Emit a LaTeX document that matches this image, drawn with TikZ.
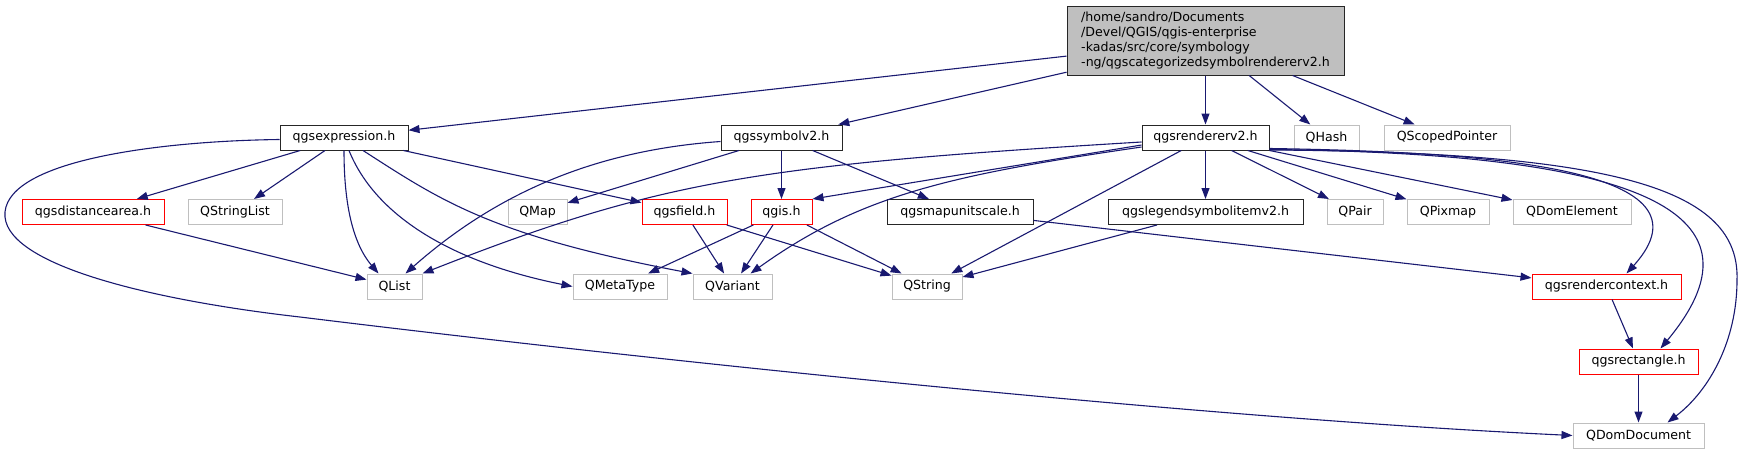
\documentclass[tikz,border=0pt]{standalone}
\usepackage{fontspec}
\setmainfont{DejaVu Sans}
\usepackage{tikz}
\usepackage{xcolor}
\usetikzlibrary{arrows.meta}
\definecolor{edgeBlue}{RGB}{25,25,112}
\definecolor{extGrey}{RGB}{191,191,191}
\definecolor{rootFill}{RGB}{191,191,191}

\begin{document}
\begin{tikzpicture}[x=1pt,y=-1pt,
  font=\fontsize{12.6}{15}\selectfont,
  docbox/.style={draw=black!85,line width=1pt,fill=white,minimum height=25pt,inner sep=2pt},
  extbox/.style={docbox,draw=extGrey},
  redbox/.style={docbox,draw=red},
  dep/.style={draw=edgeBlue,line width=1.1pt,-{Triangle[length=11pt,width=8pt]}}]
\useasboundingbox (0,0) rectangle (1744,455);
\node[docbox,fill=rootFill,minimum width=277pt,minimum height=69pt,align=left] (root) at (1205.5,40.5) {/home/sandro/Documents\\/Devel/QGIS/qgis-enterprise\\-kadas/src/core/symbology\\-ng/qgscategorizedsymbolrendererv2.h};
\node[docbox,minimum width=128pt] (expr) at (344,137.5) {qgsexpression.h};
\node[docbox,minimum width=121pt] (symb) at (781.5,137.5) {qgssymbolv2.h};
\node[docbox,minimum width=127pt] (rend) at (1205.5,137.5) {qgsrendererv2.h};
\node[extbox,minimum width=65pt] (qhash) at (1326.5,137.5) {QHash};
\node[extbox,minimum width=126pt] (qscoped) at (1447,137.5) {QScopedPointer};
\node[redbox,minimum width=142pt] (dist) at (93,212) {qgsdistancearea.h};
\node[extbox,minimum width=94pt] (qstrlist) at (235,212) {QStringList};
\node[extbox,minimum width=59pt] (qmap) at (537.5,212) {QMap};
\node[redbox,minimum width=85pt] (field) at (684.5,212) {qgsfield.h};
\node[redbox,minimum width=61pt] (qgis) at (781.5,212) {qgis.h};
\node[docbox,minimum width=146pt] (mapunit) at (960,212) {qgsmapunitscale.h};
\node[docbox,minimum width=195pt] (legend) at (1205.5,212) {qgslegendsymbolitemv2.h};
\node[extbox,minimum width=56pt] (qpair) at (1355,212) {QPair};
\node[extbox,minimum width=82pt] (qpixmap) at (1448,212) {QPixmap};
\node[extbox,minimum width=118pt] (qdomelem) at (1572,212) {QDomElement};
\node[extbox,minimum width=55pt] (qlist) at (394.5,286.5) {QList};
\node[extbox,minimum width=94pt] (qmeta) at (620,286.5) {QMetaType};
\node[extbox,minimum width=79pt] (qvariant) at (732.5,286.5) {QVariant};
\node[extbox,minimum width=70pt] (qstring) at (927,286.5) {QString};
\node[redbox,minimum width=149pt] (rctx) at (1606.5,286.5) {qgsrendercontext.h};
\node[redbox,minimum width=119pt] (rect) at (1638.5,361.5) {qgsrectangle.h};
\node[extbox,minimum width=131pt] (qdomdoc) at (1638.5,435.5) {QDomDocument};

\draw[dep] (root) -- (expr);
\draw[dep] (root) -- (symb);
\draw[dep] (root) -- (rend);
\draw[dep] (root) -- (qhash);
\draw[dep] (root) -- (qscoped);

\draw[dep] ([yshift=-2pt]expr.west) .. controls (160,141) and (10,160) .. (5,212) .. controls (0,264) and (150,300) .. (300,317) .. controls (650,360) and (1200,418) .. (qdomdoc.west);
\draw[dep] (expr) -- (dist);
\draw[dep] (expr) -- (qstrlist);
\draw[dep] (expr) -- (field);
\draw[dep] (expr.south) .. controls (344,195) and (350,240) .. ([xshift=-16pt]qlist.north);
\draw[dep] ([xshift=5pt]expr.south) .. controls (375,215) and (450,262) .. (qmeta.west);
\draw[dep] ([xshift=19pt]expr.south) .. controls (440,200) and (490,235) .. (qvariant.north west);

\draw[dep] ([yshift=-4pt]symb.west) .. controls (600,150) and (500,190) .. ([xshift=11pt]qlist.north);
\draw[dep] (symb) -- (qmap);
\draw[dep] (symb) -- (qgis);
\draw[dep] (symb) -- (mapunit);

\draw[dep] ([yshift=-4.5pt]rend.west) .. controls (760,165) and (660,180) .. (qlist.north east);
\draw[dep] ([yshift=-7.5pt]rend.west) -- (qgis.north east);
\draw[dep] ([yshift=-9.5pt]rend.west) .. controls (950,175) and (860,195) .. ([xshift=18pt]qvariant.north);
\draw[dep] (rend) -- (qstring);
\draw[dep] (rend) -- (legend);
\draw[dep] (rend) -- (qpair);
\draw[dep] (rend) -- (qpixmap);
\draw[dep] (rend) -- (qdomelem);
\draw[dep] ([yshift=-11pt]rend.east) .. controls (1500,152) and (1720,170) .. ([xshift=20pt]rctx.north);
\draw[dep] ([yshift=-12pt]rend.east) .. controls (1620,153) and (1780,205) .. ([xshift=22pt]rect.north);
\draw[dep] ([yshift=-12.5pt]rend.east) .. controls (1620,152) and (1740,190) .. (1737,280) .. controls (1737,340) and (1710,390) .. ([xshift=29pt]qdomdoc.north);

\draw[dep] (dist) -- (qlist);
\draw[dep] (field) -- (qvariant);
\draw[dep] (field) -- (qstring);
\draw[dep] (qgis) -- (qmeta);
\draw[dep] (qgis) -- (qvariant);
\draw[dep] (qgis) -- (qstring);
\draw[dep] (mapunit) -- (rctx);
\draw[dep] (legend) -- (qstring);
\draw[dep] (rctx) -- (rect);
\draw[dep] (rect) -- (qdomdoc);
\end{tikzpicture}
\end{document}
